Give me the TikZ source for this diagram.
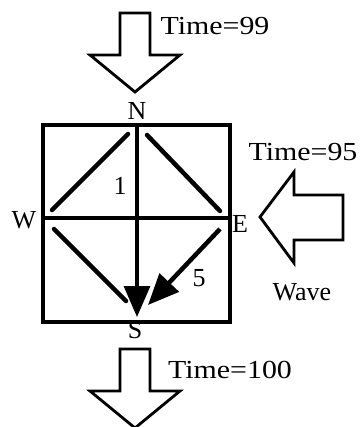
\documentclass[tikz,border=0pt]{standalone}
\usepackage{fontspec}
\setmainfont{Liberation Serif}
\usetikzlibrary{arrows.meta,positioning}

\begin{document}
\begin{tikzpicture}[
  x=1pt, y=-1pt,
  font=\fontsize{26}{30}\selectfont,
  grid/.style={line width=3.2pt},
  diag/.style={line width=4.5pt, line cap=round},
  flow/.style={line width=3.2pt, -{Triangle[length=31pt,width=26pt]}},
  block/.style={draw, line width=2.8pt, line join=miter},
  lbl/.style={inner sep=0pt},
  downblock/.pic={
    \draw[block] (-15,0) -- (15,0) -- (15,42) -- (45,42) -- (0,79)
      -- (-45,42) -- (-15,42) -- cycle;}
]
\useasboundingbox (0,0) rectangle (362,427);

% cell and crossing lines
\coordinate (nw) at (43,125);
\coordinate (se) at (230,322);
\coordinate (N) at (137,125);
\coordinate (W) at (43,218);
\coordinate (E) at (230,218);
\draw[grid] (nw) rectangle (se);
\draw[grid] (W) -- (E);

% corner labels
\node[lbl] (lN) at (137,111) {N};
\node[lbl] (lS) at (135,330) {S};
\node[lbl] (lW) at (24,220) {W};
\node[lbl] (lE) at (240,224) {E};
\node[lbl] (one) at (120,186) {1};
\node[lbl] (five) at (199,278) {5};

% diagonal paths
\coordinate (a1) at (52,210);  \coordinate (b1) at (128,134);
\coordinate (a2) at (147,135); \coordinate (b2) at (220,211);
\coordinate (a3) at (54,229);  \coordinate (b3) at (126,301);
\foreach \a/\b in {a1/b1, a2/b2, a3/b3}
  \draw[diag] (\a) -- (\b);

% propagation into S
\coordinate (sTip) at (137,317);
\coordinate (eStart) at (220,229);
\coordinate (eTip) at (148,305);
\draw[flow] (N) -- (sTip);
\draw[flow, line width=4.5pt] (eStart) -- (eTip);

% incoming and outgoing waves
\pic at (135,13) {downblock};
\pic at (135,349) {downblock};
\draw[block] (260,217) -- (294,172) -- (294,195) -- (343,195) -- (343,240)
  -- (294,240) -- (294,263) -- cycle;

\node[lbl] (t99) at (215,26) {\scalebox{1.15}[1]{Time=99}};
\node[lbl] (t95) at (303,152) {\scalebox{1.15}[1]{Time=95}};
\node[lbl] (t100) at (230,370) {\scalebox{1.15}[1]{Time=100}};
\node[lbl] (wave) at (302,292) {Wave};

\end{tikzpicture}
\end{document}
